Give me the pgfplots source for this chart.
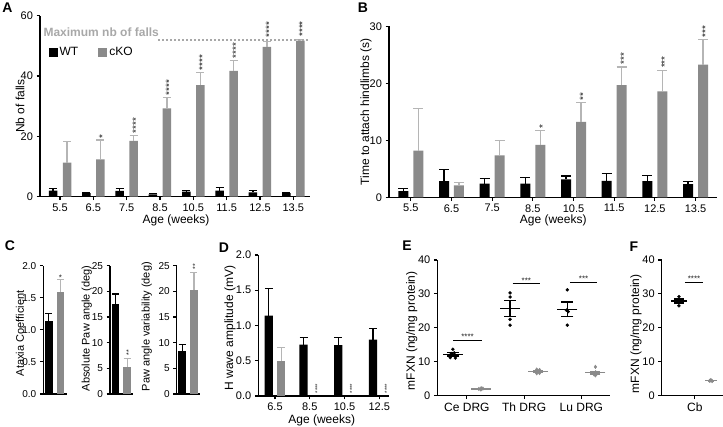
\documentclass[border=0pt]{standalone}
\usepackage{pgfplots}
\pgfplotsset{compat=1.18}
\usepackage{fontspec}
\setmainfont{Liberation Sans}
\definecolor{ko}{HTML}{8A8A8A}
\definecolor{koerr}{HTML}{B5B5B5}
\definecolor{maxc}{HTML}{A8A8A8}
\definecolor{starc}{HTML}{222222}

\tikzset{stars/.style={font=\fontsize{10}{10}\selectfont, text=starc, inner sep=0.5pt}}
\pgfplotsset{
  panel/.style={
    scale only axis, anchor=south west,
    axis x line*=bottom, axis y line*=left,
    axis line style={line width=1.1pt},
    tick align=outside, major tick length=3.5pt,
    major tick style={black, line width=1.1pt},
    tick label style={font=\fontsize{11}{12}\selectfont},
    label style={font=\fontsize{12}{13}\selectfont},
    /pgf/number format/assume math mode=true,
    enlargelimits=false, clip=false,
  },
  wt/.style={ybar, bar shift=0pt, fill=black, draw=none,
    legend image code/.code={\fill (0pt,-4.5pt) rectangle (9pt,4.5pt);},
    error bars/y dir=plus, error bars/y explicit,
    error bars/error bar style={line width=1.2pt, black},
    error bars/error mark options={rotate=90, line width=1.2pt, black, mark size=#1}},
  wt/.default=4pt,
  cko/.style={ybar, bar shift=0pt, fill=ko, draw=none,
    legend image code/.code={\fill (0pt,-4.5pt) rectangle (9pt,4.5pt);},
    error bars/y dir=plus, error bars/y explicit,
    error bars/error bar style={line width=1.2pt, koerr},
    error bars/error mark options={rotate=90, line width=1.2pt, koerr, mark size=#1}},
  cko/.default=4pt,
  meanbar/.style n args={2}{only marks, mark=-, mark size=#1, mark options={line width=1.2pt},
    error bars/y dir=both, error bars/y explicit,
    error bars/error bar style={line width=1.2pt},
    error bars/error mark options={rotate=90, line width=1.2pt, mark size=#2}},
}

\begin{document}
\begin{tikzpicture}
\path[use as bounding box] (0pt,0pt) rectangle (723pt,-427pt);

% ---------- A ----------
\begin{axis}[panel, at={(40pt,-196.7pt)}, width=270pt, height=181pt,
  xmin=-0.6, xmax=7.5, ymin=0, ymax=60, ytick={0,20,40,60},
  xtick={0,...,7}, xticklabels={5.5,6.5,7.5,8.5,10.5,11.5,12.5,13.5},
  xlabel={Age (weeks)}, ylabel={Nb of falls},
  xlabel style={at={(axis description cs:0.504,-0.131)}, anchor=center},
  ylabel style={at={(axis description cs:-0.074,0.5)}, anchor=center},
  legend columns=2,
  legend style={draw=none, fill=none, at={(axis description cs:0.02,0.797)}, anchor=west,
    font=\fontsize{12}{13}\selectfont, /tikz/every even column/.append style={column sep=18pt}},
]
\addplot[wt, bar width=8.5pt] coordinates {
  (-0.21,2.0) +- (0,0.8) (0.79,1.2) +- (0,0.3) (1.79,1.9) +- (0,0.8) (2.79,0.8) +- (0,0.3)
  (3.79,1.7) +- (0,0.4) (4.79,2.0) +- (0,1.0) (5.79,1.4) +- (0,0.7) (6.79,1.2) +- (0,0.3)};
\addlegendentry{WT}
\addplot[cko, bar width=8.5pt] coordinates {
  (0.21,11.3) +- (0,6.9) (1.21,12.4) +- (0,6.4) (2.21,18.5) +- (0,1.9) (3.21,29.3) +- (0,3.5)
  (4.21,37.0) +- (0,4.1) (5.21,41.7) +- (0,3.4) (6.21,49.7) +- (0,1.7) (7.21,51.7) +- (0,0.3)};
\addlegendentry{cKO}
\addplot[maxc, line width=1.8pt, dash pattern=on 1.6pt off 2.4pt, forget plot] coordinates {(2.95,52) (7.5,52)};
\node[anchor=base west, text=maxc, font=\bfseries\fontsize{12}{13}\selectfont, inner sep=0pt] at (axis cs:-0.5,53.0) {Maximum nb of falls};
\node[stars, rotate=90, anchor=west] at (axis cs:1.275,19.2) {*};
\node[stars, rotate=90, anchor=west] at (axis cs:2.275,20.8) {****};
\node[stars, rotate=90, anchor=west] at (axis cs:3.275,33.3) {****};
\node[stars, rotate=90, anchor=west] at (axis cs:4.275,41.6) {****};
\node[stars, rotate=90, anchor=west] at (axis cs:5.275,45.6) {****};
\node[stars, rotate=90, anchor=west] at (axis cs:6.275,52.6) {****};
\node[stars, rotate=90, anchor=west] at (axis cs:7.275,52.8) {****};
\end{axis}
\node[font=\bfseries\fontsize{14}{14}\selectfont] at (7.5pt,-7.5pt) {A};

% ---------- B ----------
\begin{axis}[panel, at={(389pt,-197.3pt)}, width=327.7pt, height=170.8pt,
  xmin=-0.536, xmax=7.52, ymin=0, ymax=30, ytick={0,10,20,30},
  xtick={0,...,7}, xticklabels={5.5,6.5,7.5,8.5,10.5,11.5,12.5,13.5},
  xlabel={Age (weeks)}, ylabel={Time to attach hindlimbs (s)},
  xlabel style={at={(axis description cs:0.501,-0.136)}, anchor=center},
  ylabel style={at={(axis description cs:-0.070,0.5)}, anchor=center},
]
\addplot[wt=5pt, bar width=10pt] coordinates {
  (-0.184,1.1) +- (0,0.4) (0.816,2.85) +- (0,2.0) (1.816,2.4) +- (0,0.95) (2.816,2.4) +- (0,1.1)
  (3.816,3.15) +- (0,0.6) (4.816,2.9) +- (0,1.35) (5.816,2.85) +- (0,0.95) (6.816,2.3) +- (0,0.45)};
\addplot[cko=5pt, bar width=10pt] coordinates {
  (0.184,8.2) +- (0,7.4) (1.184,2.1) +- (0,0.55) (2.184,7.35) +- (0,2.65) (3.184,9.2) +- (0,2.6)
  (4.184,13.25) +- (0,3.35) (5.184,19.7) +- (0,3.2) (6.184,18.6) +- (0,3.7) (7.184,23.3) +- (0,4.4)};
\node[stars, rotate=90, anchor=west] at (axis cs:3.24,12.0) {*};
\node[stars, rotate=90, anchor=west] at (axis cs:4.24,16.9) {**};
\node[stars, rotate=90, anchor=west] at (axis cs:5.24,23.2) {***};
\node[stars, rotate=90, anchor=west] at (axis cs:6.24,22.6) {***};
\node[stars, rotate=90, anchor=west] at (axis cs:7.24,28.0) {***};
\end{axis}
\node[font=\bfseries\fontsize{14}{14}\selectfont] at (363pt,-8pt) {B};

% ---------- C ----------
\begin{axis}[panel, at={(43.3pt,-394pt)}, width=23.4pt, height=128.3pt,
  xmin=0, xmax=23.4, ymin=0, ymax=2, ytick={0,0.5,1,1.5,2}, xtick=\empty,
  yticklabels={0.0,0.5,1.0,1.5,2.0},
  tick label style={font=\fontsize{10}{11}\selectfont},
  label style={font=\fontsize{11}{12}\selectfont},
  ylabel={Ataxia Coefficient},
  ylabel style={at={(axis description cs:-1.0,0.473)}, anchor=center},
]
\addplot[wt=3.5pt, bar width=7.7pt] coordinates {(5.5,1.14) +- (0,0.11)};
\addplot[cko=3.5pt, bar width=7.7pt] coordinates {(17.2,1.595) +- (0,0.19)};
\node[stars, anchor=south, font=\fontsize{8}{8}\selectfont] at (axis cs:17.2,1.76) {*};
\end{axis}
\begin{axis}[panel, at={(110pt,-394pt)}, width=23.4pt, height=128.3pt,
  xmin=0, xmax=23.4, ymin=0, ymax=25, ytick={0,5,...,25}, xtick=\empty,
  tick label style={font=\fontsize{10}{11}\selectfont},
  label style={font=\fontsize{11}{12}\selectfont},
  ylabel={Absolute Paw angle (deg)},
  ylabel style={at={(axis description cs:-0.996,0.512)}, anchor=center},
]
\addplot[wt=3.5pt, bar width=7.7pt] coordinates {(5.5,17.5) +- (0,2.0)};
\addplot[cko=3.5pt, bar width=7.7pt] coordinates {(17.2,5.3) +- (0,1.6)};
\node[stars, rotate=90, anchor=west, font=\fontsize{7}{7}\selectfont] at (axis cs:18.6,7.4) {**};
\end{axis}
\begin{axis}[panel, at={(176.7pt,-394pt)}, width=23.4pt, height=128.3pt,
  xmin=0, xmax=23.4, ymin=0, ymax=25, ytick={0,5,...,25}, xtick=\empty,
  tick label style={font=\fontsize{10}{11}\selectfont},
  label style={font=\fontsize{11}{12}\selectfont},
  ylabel={Paw angle variability (deg)},
  ylabel style={at={(axis description cs:-1.28,0.525)}, anchor=center},
]
\addplot[wt=3.5pt, bar width=7.7pt] coordinates {(5.5,8.44) +- (0,1.26)};
\addplot[cko=3.5pt, bar width=7.7pt] coordinates {(17.2,20.3) +- (0,3.4)};
\node[stars, rotate=90, anchor=west, font=\fontsize{7}{7}\selectfont] at (axis cs:18.6,24.2) {**};
\end{axis}
\node[font=\bfseries\fontsize{14}{14}\selectfont] at (10pt,-246pt) {C};

% ---------- D ----------
\begin{axis}[panel, at={(258.3pt,-396pt)}, width=131pt, height=141pt,
  xmin=-0.48, xmax=3.29, ymin=0, ymax=2, ytick={0,0.5,1,1.5,2},
  yticklabels={0.0,0.5,1.0,1.5,2.0},
  xtick={0,...,3}, xticklabels={6.5,8.5,10.5,12.5},
  xlabel={Age (weeks)}, ylabel={H wave amplitude (mV)},
  xlabel style={at={(axis description cs:0.484,-0.170)}, anchor=center},
  ylabel style={at={(axis description cs:-0.216,0.482)}, anchor=center},
]
\addplot[wt, bar width=8.3pt] coordinates {
  (-0.178,1.14) +- (0,0.38) (0.822,0.73) +- (0,0.10) (1.822,0.72) +- (0,0.11) (2.822,0.80) +- (0,0.16)};
\addplot[cko, bar width=8.3pt] coordinates {(0.178,0.50) +- (0,0.19)};
\node[stars, rotate=90, anchor=west, font=\fontsize{6}{6}\selectfont] at (axis cs:1.215,0.03) {****};
\node[stars, rotate=90, anchor=west, font=\fontsize{6}{6}\selectfont] at (axis cs:2.215,0.03) {****};
\node[stars, rotate=90, anchor=west, font=\fontsize{6}{6}\selectfont] at (axis cs:3.215,0.03) {****};
\end{axis}
\node[font=\bfseries\fontsize{14}{14}\selectfont] at (224pt,-247.5pt) {D};

% ---------- E ----------
\begin{axis}[panel, at={(437.3pt,-395.7pt)}, width=172.7pt, height=135.7pt,
  xmin=-0.516, xmax=2.5, ymin=0, ymax=40, ytick={0,10,...,40},
  xtick={0,1,2}, xticklabels={Ce DRG,Th DRG,Lu DRG},
  xticklabel style={font=\fontsize{12}{13}\selectfont},
  ylabel={mFXN (ng/mg protein)},
  ylabel style={at={(axis description cs:-0.148,0.478)}, anchor=center},
]
\addplot[only marks, mark=*, mark size=1.5pt, black] coordinates {
  (-0.29,11.2) (-0.20,11.1) (-0.245,13.7) (-0.27,12.4) (-0.22,12.6)
  (0.755,30.3) (0.755,29.1) (0.755,22.5) (0.755,20.8)
  (1.755,31.2) (1.74,25.2) (1.77,24.8) (1.755,20.8)};
\addplot[only marks, mark=diamond*, mark size=1.8pt, ko] coordinates {
  (0.21,2.0) (0.245,1.8) (0.28,2.1) (0.25,2.2)
  (1.22,7.7) (1.27,7.6) (1.22,6.6) (1.27,6.7) (1.245,7.1)
  (2.245,8.5) (2.22,6.3) (2.27,6.5) (2.245,6.0) (2.25,6.9)};
\addplot[meanbar={10pt}{6pt}, black] coordinates {
  (-0.245,12.2) +- (0,0.5) (0.755,25.7) +- (0,2.3) (1.755,25.5) +- (0,2.1)};
\addplot[meanbar={10pt}{5pt}, ko] coordinates {
  (0.245,2.0) +- (0,0.1) (1.245,7.1) +- (0,0.25) (2.245,6.8) +- (0,0.4)};
\addplot[black, line width=1.1pt] coordinates {(-0.236,16.4) (0.26,16.4)};
\addplot[black, line width=1.1pt] coordinates {(0.80,33.0) (1.28,33.0)};
\addplot[black, line width=1.1pt] coordinates {(1.80,33.5) (2.28,33.5)};
\node[stars, anchor=south, font=\fontsize{8}{8}\selectfont] at (axis cs:0.012,16.4) {****};
\node[stars, anchor=south, font=\fontsize{8}{8}\selectfont] at (axis cs:1.04,33.0) {***};
\node[stars, anchor=south, font=\fontsize{8}{8}\selectfont] at (axis cs:2.04,33.5) {***};
\end{axis}
\node[font=\bfseries\fontsize{14}{14}\selectfont] at (407pt,-246pt) {E};

% ---------- F ----------
\begin{axis}[panel, at={(661.7pt,-395.7pt)}, width=61.3pt, height=135.7pt,
  xmin=-0.52, xmax=0.44, ymin=0, ymax=40, ytick={0,10,...,40},
  xtick={0}, xticklabels={Cb},
  xticklabel style={font=\fontsize{12}{13}\selectfont},
  ylabel={mFXN (ng/mg protein)},
  ylabel style={at={(axis description cs:-0.42,0.455)}, anchor=center},
]
\addplot[only marks, mark=*, mark size=1.5pt, black] coordinates {
  (-0.25,29.2) (-0.27,28.3) (-0.23,27.5) (-0.25,26.5)};
\addplot[only marks, mark=diamond*, mark size=1.8pt, ko] coordinates {
  (0.25,4.6) (0.23,4.4) (0.27,4.3) (0.25,4.5)};
\addplot[meanbar={8.3pt}{5pt}, black] coordinates {(-0.25,27.9) +- (0,0.6)};
\addplot[meanbar={5.8pt}{3pt}, ko] coordinates {(0.25,4.45) +- (0,0.1)};
\addplot[black, line width=1.1pt] coordinates {(-0.156,33.5) (0.13,33.5)};
\node[stars, anchor=south, font=\fontsize{8}{8}\selectfont] at (axis cs:-0.013,33.5) {****};
\end{axis}
\node[font=\bfseries\fontsize{14}{14}\selectfont] at (634pt,-247pt) {F};

\end{tikzpicture}
\end{document}
